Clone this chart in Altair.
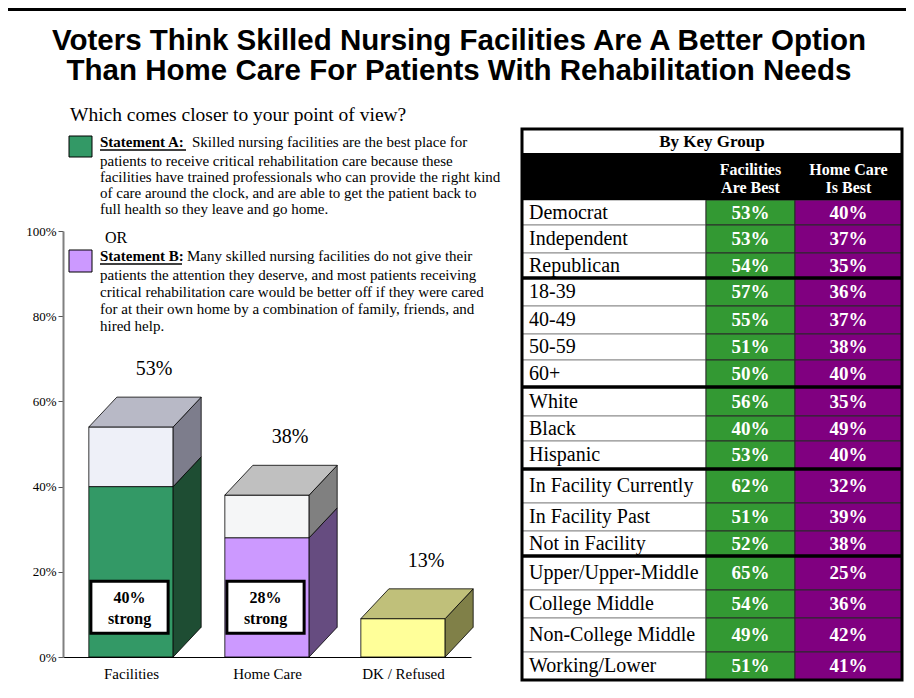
import json
import altair as alt
import pandas as pd

# ---------------- data ----------------
categories = ["Facilities", "Home Care", "DK / Refused"]
total_labels = ["53%", "38%", "13%"]
bar_heights = [54, 38, 9]          # heights as drawn in the picture
strong_values = [40, 28, None]
strong_labels = ["40%\nstrong", "28%\nstrong", None]

title_lines = ["Voters Think Skilled Nursing Facilities Are A Better Option",
               "Than Home Care For Patients With Rehabilitation Needs"]
question = "Which comes closer to your point of view?"
statement_a_head = "Statement A:"
statement_a_first = "Skilled nursing facilities are the best place for"
statement_a_rest = ["patients to receive critical rehabilitation care because these",
                    "facilities have trained professionals who can provide the right kind",
                    "of care around the clock, and are able to get the patient back to",
                    "full health so they leave and go home."]
or_text = "OR"
statement_b_head = "Statement B:"
statement_b_first = "Many skilled nursing facilities do not give their"
statement_b_rest = ["patients the attention they deserve, and most patients receiving",
                    "critical rehabilitation care would be better off if they were cared",
                    "for at their own home by a combination of family, friends, and",
                    "hired help."]

table_title = "By Key Group"
col_headers = ["Facilities\nAre Best", "Home Care\nIs Best"]
groups = ["Democrat", "Independent", "Republican", "18-39", "40-49", "50-59", "60+",
          "White", "Black", "Hispanic", "In Facility Currently", "In Facility Past",
          "Not in Facility", "Upper/Upper-Middle", "College Middle",
          "Non-College Middle", "Working/Lower"]
facilities_best = [53, 53, 54, 57, 55, 51, 50, 56, 40, 53, 62, 51, 52, 65, 54, 49, 51]
homecare_best = [40, 37, 35, 36, 37, 38, 40, 35, 49, 40, 32, 39, 38, 25, 36, 42, 41]
group_breaks = [3, 7, 10, 13]      # a thick rule follows these rows

# ---------------- style / layout ----------------
W, H = 898, 682
SERIF = "Liberation Serif"
SANS = "Liberation Sans"

pal = [
    {"strong": ("#339966", "#1E4D33"), "rest": ("#EEF0F8", "#7D7D8C"), "top": "#B8B9C6"},
    {"strong": ("#CC99FF", "#664C80"), "rest": ("#F5F6F7", "#808080"), "top": "#C0C0C0"},
    {"strong": ("#FFFF99", "#808048"), "rest": None, "top": "#C0C07A"},
]

bx = alt.Scale(domain=[-0.5, 2.5], range=[55, 463], nice=False, zero=False)
by = alt.Scale(domain=[0, 100], range=[649, 223], nice=False, zero=False)
HW, DX, DY = 0.31, 0.206, 7.0

x_axis = alt.Axis(orient="bottom", offset=-33, values=[0, 1, 2],
                  labelExpr=json.dumps(categories) + "[datum.value]",
                  ticks=False, domainColor="black", domainWidth=1,
                  labelFont=SERIF, labelFontSize=15, labelColor="black",
                  labelPadding=9, labelAngle=0, grid=False, title=None)
y_axis = alt.Axis(orient="left", offset=-55, values=[0, 20, 40, 60, 80, 100],
                  labelExpr="datum.value + '%'", tickSize=5, tickColor="#555555",
                  domainColor="#808080", domainWidth=2, labelFont=SERIF,
                  labelFontSize=13, labelColor="black", labelPadding=2,
                  grid=False, title=None)

front, side, top = [], [], []
seg = 0
for i, (h, s) in enumerate(zip(bar_heights, strong_values)):
    parts = [(0, s, "strong"), (s, h, "rest")] if s is not None else [(0, h, "strong")]
    for lo, hi, kind in parts:
        fc, sc = pal[i][kind]
        front.append(dict(x=i - HW, x2=i + HW, y=lo, y2=hi, fill=fc))
        side.append(dict(seg=seg, x=i + HW, top=hi, bot=lo, fill=sc))
        side.append(dict(seg=seg, x=i + HW + DX, top=hi + DY, bot=lo + DY, fill=sc))
        seg += 1
    top.append(dict(bar=i, y=h, xl=i - HW, xr=i + HW, fill=pal[i]["top"]))
    top.append(dict(bar=i, y=h + DY, xl=i - HW + DX, xr=i + HW + DX, fill=pal[i]["top"]))

boxes = [dict(x=i - HW + 0.015, x2=i + HW - 0.037, xm=i - 0.011, y=5.6, y2=17.8,
              yc=13.9, label=lab)
         for i, lab in enumerate(strong_labels) if lab]
vlabels = pd.DataFrame({"x": list(range(len(categories))), "y": bar_heights,
                        "label": total_labels})

fill_enc = alt.Color("fill:N", scale=None)

front_l = alt.Chart(pd.DataFrame(front)).mark_rect(stroke="black", strokeWidth=0.8).encode(
    x=alt.X("x:Q", scale=bx, axis=x_axis), x2="x2:Q",
    y=alt.Y("y:Q", scale=by, axis=y_axis), y2="y2:Q", color=fill_enc)
side_l = alt.Chart(pd.DataFrame(side)).mark_area(stroke="black", strokeWidth=0.8,
                                                 opacity=1).encode(
    x=alt.X("x:Q", scale=bx, axis=x_axis),
    y=alt.Y("top:Q", scale=by, axis=y_axis), y2="bot:Q",
    color=fill_enc, detail="seg:N")
top_l = alt.Chart(pd.DataFrame(top)).mark_area(orient="horizontal", stroke="black",
                                               strokeWidth=0.8, opacity=1).encode(
    y=alt.Y("y:Q", scale=by, axis=y_axis),
    x=alt.X("xl:Q", scale=bx, axis=x_axis), x2="xr:Q",
    color=fill_enc, detail="bar:N")
box_l = alt.Chart(pd.DataFrame(boxes)).mark_rect(fill="white", stroke="black",
                                                 strokeWidth=3).encode(
    x=alt.X("x:Q", scale=bx, axis=x_axis), x2="x2:Q",
    y=alt.Y("y:Q", scale=by, axis=y_axis), y2="y2:Q")
boxtext_l = alt.Chart(pd.DataFrame(boxes)).mark_text(
    font=SERIF, fontSize=16, fontWeight="bold", lineBreak="\n", lineHeight=21,
    baseline="middle").encode(
    x=alt.X("xm:Q", scale=bx, axis=x_axis),
    y=alt.Y("yc:Q", scale=by, axis=y_axis), text="label:N")
vlabel_l = alt.Chart(vlabels).mark_text(font=SERIF, fontSize=20, dx=23, dy=-58,
                                        baseline="middle").encode(
    x=alt.X("x:Q", scale=bx, axis=x_axis),
    y=alt.Y("y:Q", scale=by, axis=y_axis), text="label:N")

bars = alt.layer(front_l, side_l, top_l, box_l, boxtext_l, vlabel_l)

# ---------------- table ----------------
# row heights of the printed table (layout, in px-like table units)
ROW_H = [25, 28, 25, 28, 28, 26, 27, 29, 25, 28, 34, 28, 25, 34, 28, 34, 28]
TABLE_H = sum(ROW_H)
tx = alt.Scale(domain=[0, 1], range=[514, 894], nice=False, zero=False)
ty = alt.Scale(domain=[0, TABLE_H], range=[192, 192 + TABLE_H], nice=False, zero=False)
C1, C2 = 0.4842, 0.7184
HDR_TOP, HDR_MID = -71, -46

tops = [sum(ROW_H[:k]) for k in range(len(groups))]
tdf = pd.DataFrame({"group": groups, "fac": [f"{v}%" for v in facilities_best],
                    "home": [f"{v}%" for v in homecare_best]})
tdf["y"] = tops
tdf["y2"] = [t + h for t, h in zip(tops, ROW_H)]
tdf["yc"] = [t + h / 2 for t, h in zip(tops, ROW_H)]
brk = pd.DataFrame({"b": [sum(ROW_H[:k]) for k in group_breaks]})


def TX(v):
    return alt.XDatum(v, type="quantitative", scale=tx, axis=None)


def TX2(v):
    return alt.X2Datum(v)


def TY(v):
    return alt.YDatum(v, type="quantitative", scale=ty, axis=None)


def TY2(v):
    return alt.Y2Datum(v)


ty_field = alt.Y("y:Q", scale=ty, axis=None)
one = pd.DataFrame({"k": [0]})

lab_cells = alt.Chart(tdf).mark_rect(fill="white", stroke="#8c8c8c", strokeWidth=1).encode(
    x=TX(0), x2=TX2(C1), y=ty_field, y2="y2:Q")
fac_cells = alt.Chart(tdf).mark_rect(fill="#339933", stroke="#2a2a2a", strokeWidth=1).encode(
    x=TX(C1), x2=TX2(C2), y=ty_field, y2="y2:Q")
home_cells = alt.Chart(tdf).mark_rect(fill="#800080", stroke="#2a2a2a", strokeWidth=1).encode(
    x=TX(C2), x2=TX2(1), y=ty_field, y2="y2:Q")
breaks_l = alt.Chart(brk).mark_rule(color="black", strokeWidth=3.5).encode(
    x=TX(0), x2=TX2(1), y=alt.Y("b:Q", scale=ty, axis=None))
hdr_band = alt.Chart(one).mark_rect(fill="black").encode(
    x=TX(0), x2=TX2(1), y=TY(HDR_MID), y2=TY2(0))
hdr_title_box = alt.Chart(one).mark_rect(fill="white", stroke="black", strokeWidth=2).encode(
    x=TX(0), x2=TX2(1), y=TY(HDR_TOP), y2=TY2(HDR_MID))
outer = alt.Chart(one).mark_rect(fill=None, stroke="black", strokeWidth=3).encode(
    x=TX(0), x2=TX2(1), y=TY(HDR_TOP), y2=TY2(TABLE_H))
hdr_title = alt.Chart(one).mark_text(font=SERIF, fontSize=17, fontWeight="bold",
                                     baseline="middle", color="black").encode(
    x=TX(0.5), y=TY((HDR_TOP + HDR_MID) / 2), text=alt.value(table_title))
hdr_fac = alt.Chart(one).mark_text(font=SERIF, fontSize=16, fontWeight="bold",
                                   baseline="middle", color="white", lineBreak="\n",
                                   lineHeight=17.5).encode(
    x=TX((C1 + C2) / 2), y=TY(-30), text=alt.value(col_headers[0]))
hdr_home = alt.Chart(one).mark_text(font=SERIF, fontSize=16, fontWeight="bold",
                                    baseline="middle", color="white", lineBreak="\n",
                                    lineHeight=17.5).encode(
    x=TX((C2 + 1) / 2), y=TY(-30), text=alt.value(col_headers[1]))
lab_text = alt.Chart(tdf).mark_text(font=SERIF, fontSize=20, align="left", dx=7,
                                    baseline="middle", color="black").encode(
    x=TX(0), y=alt.Y("yc:Q", scale=ty, axis=None), text="group:N")
fac_text = alt.Chart(tdf).mark_text(font=SERIF, fontSize=19, fontWeight="bold",
                                    baseline="middle", color="white").encode(
    x=TX((C1 + C2) / 2), y=alt.Y("yc:Q", scale=ty, axis=None), text="fac:N")
home_text = alt.Chart(tdf).mark_text(font=SERIF, fontSize=19, fontWeight="bold",
                                     baseline="middle", color="white").encode(
    x=TX((C2 + 1) / 2), y=alt.Y("yc:Q", scale=ty, axis=None), text="home:N")

table = alt.layer(lab_cells, fac_cells, home_cells, breaks_l, hdr_band, hdr_title_box,
                  outer, hdr_title, hdr_fac, hdr_home, lab_text, fac_text, home_text)

# ---------------- title & statement texts ----------------


def txt(s, x, y, **kw):
    props = dict(font=SERIF, fontSize=15, align="left", baseline="alphabetic",
                 color="black")
    props.update(kw)
    return alt.Chart(one).mark_text(**props).encode(
        x=alt.value(x), y=alt.value(y), text=alt.value(s))


def box(color, x, y, w, h, sw=1):
    return alt.Chart(one).mark_rect(fill=color, stroke="black", strokeWidth=sw).encode(
        x=alt.value(x), x2=alt.value(x + w), y=alt.value(y), y2=alt.value(y + h))


def underline(x, x2, y):
    return alt.Chart(one).mark_rule(color="black", strokeWidth=1.5).encode(
        x=alt.value(x), x2=alt.value(x2), y=alt.value(y))


title_kw = dict(font=SANS, fontSize=29.5, fontWeight="bold", align="center",
                baseline="middle")

notes = alt.layer(
    box("black", 0, 0, W, 3, sw=0),
    txt(title_lines[0], 451, 32.5, **title_kw),
    txt(title_lines[1], 451, 63, **title_kw),
    txt(question, 62, 113, fontSize=19.5),
    box(pal[0]["strong"][0], 61, 128, 23, 21),
    txt(statement_a_head, 92, 139, fontWeight="bold"),
    underline(92, 178, 142),
    txt(statement_a_first, 184, 139),
    txt("\n".join(statement_a_rest), 92, 158, lineBreak="\n", lineHeight=16),
    txt(or_text, 97, 235, fontSize=16),
    box(pal[1]["strong"][0], 61, 242, 23, 22),
    txt(statement_b_head, 92, 253, fontWeight="bold"),
    underline(92, 174, 256),
    txt(statement_b_first, 179, 253),
    txt("\n".join(statement_b_rest), 92, 272, lineBreak="\n", lineHeight=17),
)

chart = alt.layer(bars, table, notes).resolve_scale(
    x="independent", y="independent"
).properties(
    width=W, height=H, padding=0, background="white",
    autosize=alt.AutoSizeParams(type="none"),
).configure_view(stroke=None)

chart.save("out.html", embed_options={"renderer": "svg", "actions": False})
